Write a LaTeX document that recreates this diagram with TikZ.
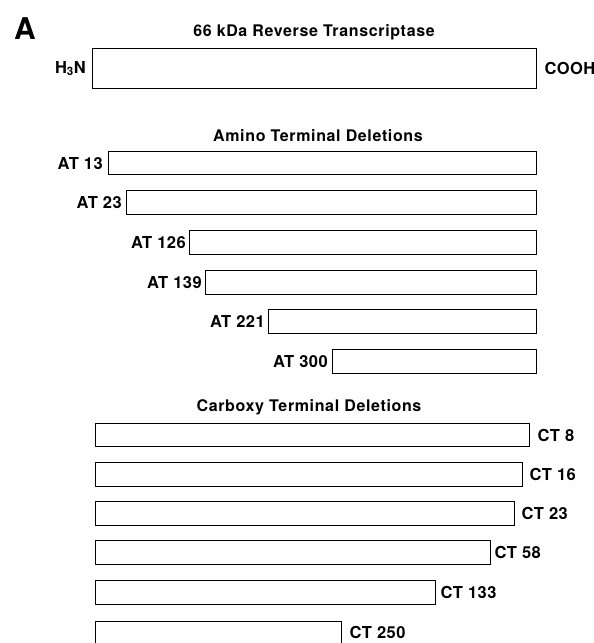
\documentclass[tikz,border=0pt]{standalone}
\usepackage{fontspec}
\setmainfont{TeX Gyre Heros}
\begin{document}
\begin{tikzpicture}[x=1pt,y=-1pt,
  bx/.style={draw=black, line width=1.3pt, inner sep=0pt, anchor=north west, fill=white},
  lbl/.style={font=\fontsize{16.5}{19}\selectfont\bfseries\addfontfeature{LetterSpace=3}, inner sep=0pt, text=black},
  ttl/.style={font=\fontsize{16}{19}\selectfont\bfseries\addfontfeature{LetterSpace=4}, inner sep=0pt, text=black}]
\useasboundingbox (0,0) rectangle (594,643);
\clip (0,0) rectangle (594,643);

% panel letter
\node[font=\fontsize{30}{32}\selectfont\bfseries, inner sep=0pt, anchor=north west] (A) at (14,17) {A};

% full length RT
\node[ttl] (t1) at (314,32) {66 kDa Reverse Transcriptase};
\node[bx, minimum width=444pt, minimum height=40pt] (rt) at (92,48) {};
\node[lbl, anchor=east] (h3n) at ([xshift=-6pt]rt.west) {H\textsubscript{3}N};
\node[lbl, anchor=west] (cooh) at ([xshift=7pt]rt.east) {COOH};

% amino terminal deletions
\node[ttl] (t2) at (318,136) {Amino Terminal Deletions};
\node[bx, minimum width=428pt, minimum height=23pt] (at13) at (108,151) {};
\node[bx, minimum width=410pt, minimum height=24pt] (at23) at (126,190) {};
\node[bx, minimum width=347pt, minimum height=24pt] (at126) at (189,230) {};
\node[bx, minimum width=331pt, minimum height=24pt] (at139) at (205,270) {};
\node[bx, minimum width=268pt, minimum height=24pt] (at221) at (268,309) {};
\node[bx, minimum width=204pt, minimum height=24pt] (at300) at (332,349) {};
\node[lbl, anchor=east] (l13) at ([xshift=-5pt]at13.west) {AT 13};
\node[lbl, anchor=east] (l23) at ([xshift=-4pt]at23.west) {AT 23};
\node[lbl, anchor=east] (l126) at ([xshift=-3pt]at126.west) {AT 126};
\node[lbl, anchor=east] (l139) at ([xshift=-3pt]at139.west) {AT 139};
\node[lbl, anchor=east] (l221) at ([xshift=-3pt]at221.west) {AT 221};
\node[lbl, anchor=east] (l300) at ([xshift=-4pt]at300.west) {AT 300};

% carboxy terminal deletions
\node[ttl] (t3) at (309,407) {Carboxy Terminal Deletions};
\node[bx, minimum width=434pt, minimum height=23pt] (ct8) at (95,423) {};
\node[bx, minimum width=427pt, minimum height=24pt] (ct16) at (95,462) {};
\node[bx, minimum width=419pt, minimum height=24pt] (ct23) at (95,501) {};
\node[bx, minimum width=395pt, minimum height=24pt] (ct58) at (95,540) {};
\node[bx, minimum width=340pt, minimum height=24pt] (ct133) at (95,580) {};
\node[bx, minimum width=246pt, minimum height=40pt] (ct250) at (95,621) {};
\node[lbl, anchor=west] (c8) at ([xshift=7pt]ct8.east) {CT 8};
\node[lbl, anchor=west] (c16) at ([xshift=6pt]ct16.east) {CT 16};
\node[lbl, anchor=west] (c23) at ([xshift=6pt]ct23.east) {CT 23};
\node[lbl, anchor=west] (c58) at ([xshift=3pt]ct58.east) {CT 58};
\node[lbl, anchor=west] (c133) at ([xshift=4pt]ct133.east) {CT 133};
\node[lbl, anchor=west] (c250) at ([xshift=7pt]ct250.north east |- 0,632) {CT 250};
\end{tikzpicture}
\end{document}
